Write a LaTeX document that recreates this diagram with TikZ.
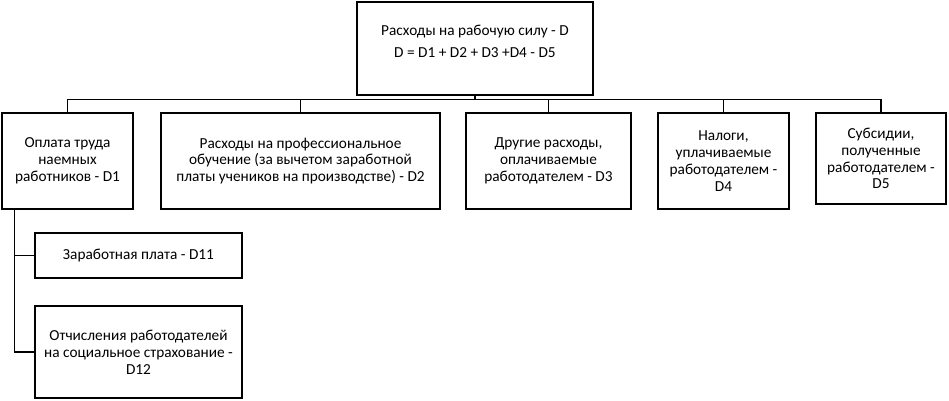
\documentclass[tikz,border=0pt]{standalone}
\usepackage{fontspec}
\setmainfont{Carlito}
\usepackage{xcolor}

\tikzset{
  box/.style={draw, line width=1.2pt, align=center, inner sep=0pt,
    font=\fontsize{15.3pt}{16.8pt}\selectfont},
  link/.style={line width=1.2pt}
}

\begin{document}
\begin{tikzpicture}[x=1pt, y=-1pt]
        \useasboundingbox (0,0) rectangle (949,400);
        \node[box, minimum width=236pt, minimum height=93pt, text depth=14pt](top) at (475,48.5) {Расходы на рабочую силу - D\\[5pt]D = D1 + D2 + D3 +D4 - D5};
        \node[box, minimum width=131pt, minimum height=96pt](d1) at (67.5,161) {Оплата труда\\наемных\\работников - D1};
        \node[box, minimum width=279pt, minimum height=96pt](d2) at (300.5,161) {Расходы на профессиональное\\обучение (за вычетом заработной\\платы учеников на производстве) - D2};
        \node[box, minimum width=165pt, minimum height=96pt](d3) at (548.5,161) {Другие расходы,\\оплачиваемые\\работодателем - D3};
        \node[box, minimum width=131pt, minimum height=96pt](d4) at (723.5,161) {Налоги,\\уплачиваемые\\работодателем -\\D4};
        \node[box, minimum width=130pt, minimum height=91pt](d5) at (881,158.5) {Субсидии,\\полученные\\работодателем -\\D5};
        \node[box, minimum width=207pt, minimum height=45pt](d11) at (138.5,255.5) {Заработная плата - D11};
        \node[box, minimum width=207pt, minimum height=92pt](d12) at (138.5,352) {Отчисления работодателей\\на социальное страхование -\\D12};
        \coordinate(hub) at (475,99.5);
        \coordinate(d1s) at ([xshift=13pt]d1.south west);
        \draw[link](top.south)--(hub);
        \foreach \n in {d1,d2,d3,d4,d5}
          \draw[link](\n.north)|-(hub);
        \draw[link](d1s)|-(d11.west);
        \draw[link](d1s)|-(d12.west);
        \end{tikzpicture}
\end{document}
